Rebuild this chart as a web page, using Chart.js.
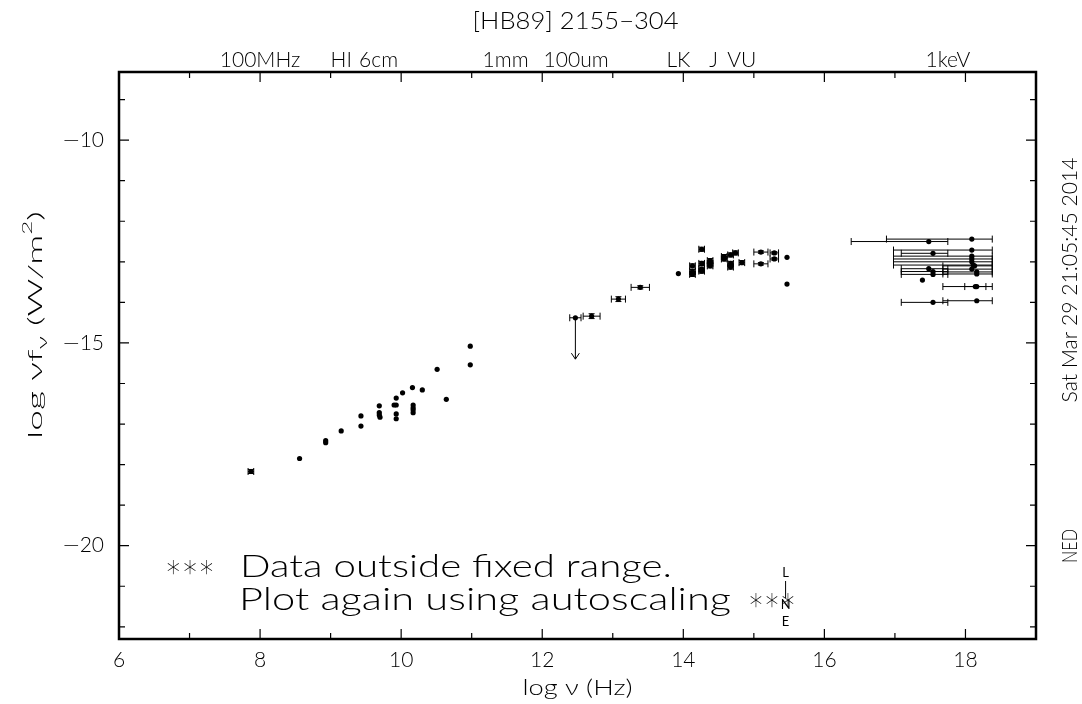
<!DOCTYPE html>
<html>
<head>
<meta charset="utf-8">
<script src="https://cdn.jsdelivr.net/npm/chart.js@4.4.1/dist/chart.umd.min.js"></script>
<style>
  html, body { margin: 0; padding: 0; background: #fff; }
  #wrap { width: 1082px; height: 704px; position: relative; }
</style>
</head>
<body>
<div id="wrap"><canvas id="sed"></canvas></div>
<script>
// log nu (Hz) / log nu*f_nu (W/m^2)
const radioNu   = [7.87, 8.56, 8.93, 8.93, 9.15, 9.43, 9.43, 9.69, 9.69, 9.69, 9.70, 9.93, 9.93, 9.90, 9.93, 9.93, 10.02, 10.16, 10.17, 10.17, 10.17, 10.17, 10.30, 10.51, 10.64, 10.98, 10.98];
const radioFlux = [-18.17, -17.85, -17.41, -17.46, -17.17, -16.80, -17.05, -16.55, -16.72, -16.78, -16.83, -16.36, -16.53, -16.53, -16.75, -16.87, -16.23, -16.10, -16.53, -16.60, -16.65, -16.72, -16.16, -15.65, -16.39, -15.08, -15.54];
const radioXerr = [0.04, 0, 0, 0, 0, 0, 0, 0, 0, 0, 0, 0, 0, 0, 0, 0, 0, 0, 0, 0, 0, 0, 0, 0, 0, 0, 0];
const radioYerr = [0.05, 0, 0, 0, 0, 0, 0, 0, 0, 0, 0, 0, 0, 0, 0, 0, 0, 0, 0, 0, 0, 0, 0, 0, 0, 0, 0];

const optNu   = [12.70, 13.08, 13.39, 13.93, 14.13, 14.13, 14.13, 14.26, 14.26, 14.26, 14.26, 14.38, 14.38, 14.38, 14.58, 14.58, 14.67, 14.67, 14.67, 14.74, 14.83, 15.10, 15.10, 15.29, 15.29, 15.47, 15.47];
const optFlux = [-14.34, -13.92, -13.63, -13.29, -13.10, -13.24, -13.31, -12.69, -13.04, -13.18, -13.23, -12.97, -13.10, -13.04, -12.87, -12.93, -12.83, -13.04, -13.13, -12.78, -13.02, -12.76, -13.05, -12.78, -12.93, -12.89, -13.55];
const optXerr = [0.12, 0.10, 0.13, 0, 0.04, 0.04, 0.04, 0.04, 0.04, 0.04, 0.04, 0.04, 0.04, 0.04, 0.04, 0.04, 0.04, 0.04, 0.04, 0.04, 0.04, 0.10, 0.10, 0.06, 0.06, 0, 0];
const optYerr = [0.06, 0.06, 0.04, 0, 0.05, 0.05, 0.05, 0.05, 0.05, 0.05, 0.05, 0.05, 0.05, 0.05, 0.05, 0.05, 0.05, 0.05, 0.05, 0.05, 0.05, 0.03, 0.03, 0.03, 0.03, 0, 0];

const xrayNu   = [17.48, 18.09, 17.54, 18.09, 18.09, 18.09, 18.09, 18.11, 18.13, 18.09, 18.16, 18.16, 17.48, 17.54, 17.54, 17.39, 18.16, 18.14, 17.54, 18.16];
const xrayFlux = [-12.50, -12.44, -12.79, -12.71, -12.86, -12.93, -13.00, -13.08, -13.10, -13.18, -13.25, -13.30, -13.17, -13.24, -13.31, -13.45, -13.61, -13.61, -14.00, -13.96];
const xrayLo   = [16.38, 16.88, 17.09, 16.98, 16.98, 16.98, 16.98, 16.98, 17.68, 17.68, 17.68, 17.68, 17.09, 17.09, 17.09, 17.39, 17.68, 17.99, 17.09, 17.68];
const xrayHi   = [17.75, 18.38, 17.75, 18.38, 18.38, 18.38, 18.38, 18.38, 18.38, 18.38, 18.38, 18.38, 17.75, 17.75, 17.75, 17.39, 18.38, 18.29, 17.75, 18.38];

const limitNu   = [12.47];
const limitFlux = [-14.38];
const limitXerr = [0.08];
const ARROW_DEX = 1.02;

const bandNames = ['100MHz', 'HI', '6cm', '1mm', '100um', 'LK', 'J', 'VU', '1keV'];
const bandNu    = [8.0, 9.15, 9.68, 11.48, 12.48, 13.93, 14.43, 14.83, 17.75];

const xTickLabels = [6, 8, 10, 12, 14, 16, 18];
const yTickLabels = [-10, -15, -20];

const FONT = 'Lato, "DejaVu Sans", sans-serif';

function pts(nu, flux) {
    return nu.map((v, i) => ({ x: v, y: flux[i] }));
}

// draw text squeezed/stretched horizontally to a given width
function fitText(ctx, text, x, y, width, size, align) {
    ctx.font = `300 ${size}px ${FONT}`;
    const w = ctx.measureText(text).width;
    const sx = width / w;
    ctx.save();
    ctx.translate(x, y);
    ctx.scale(sx, 1);
    ctx.textAlign = 'left';
    const start = align === 'center' ? -w / 2 : 0;
    ctx.fillText(text, start, 0);
    ctx.restore();
}

function richText(ctx, parts, x, y, size, width) {
    // parts: [text, scale, dy]
    let total = 0;
    parts.forEach(p => {
        ctx.font = `300 ${Math.round(size * p[1])}px ${FONT}`;
        total += ctx.measureText(p[0]).width;
    });
    ctx.save();
    ctx.translate(x, y);
    ctx.scale(width / total, 1);
    let cx = -total / 2;
    ctx.textAlign = 'left';
    parts.forEach(p => {
        ctx.font = `300 ${Math.round(size * p[1])}px ${FONT}`;
        ctx.fillText(p[0], cx, p[2]);
        cx += ctx.measureText(p[0]).width;
    });
    ctx.restore();
}

const background = {
    id: 'background',
    beforeDraw(chart) {
        const ctx = chart.ctx;
        ctx.save();
        ctx.fillStyle = '#fff';
        ctx.fillRect(0, 0, chart.width, chart.height);
        ctx.restore();
    }
};

const frameAndTicks = {
    id: 'frameAndTicks',
    afterDraw(chart) {
        const { ctx, chartArea: a, scales: { x, y } } = chart;
        ctx.save();
        ctx.strokeStyle = '#000';
        ctx.lineWidth = 1.2;
        // inward ticks on all four sides
        x.ticks.forEach(t => {
            const px = x.getPixelForValue(t.value);
            const len = t.value % 2 === 0 ? 10 : 6;
            ctx.beginPath();
            ctx.moveTo(px, a.bottom); ctx.lineTo(px, a.bottom - len);
            ctx.moveTo(px, a.top); ctx.lineTo(px, a.top + len);
            ctx.stroke();
        });
        y.ticks.forEach(t => {
            const py = y.getPixelForValue(t.value);
            const len = t.value % 5 === 0 ? 10 : 6;
            ctx.beginPath();
            ctx.moveTo(a.left, py); ctx.lineTo(a.left + len, py);
            ctx.moveTo(a.right, py); ctx.lineTo(a.right - len, py);
            ctx.stroke();
        });
        ctx.lineWidth = 2.5;
        ctx.strokeRect(a.left, a.top, a.right - a.left, a.bottom - a.top);

        ctx.fillStyle = '#000';
        ctx.textBaseline = 'middle';
        // title and band labels along the top
        fitText(ctx, '[HB89] 2155\u2212304', (a.left + a.right) / 2 - 2, 22, 206, 23, 'center');
        ctx.textAlign = 'center';
        ctx.font = `300 21px ${FONT}`;
        bandNames.forEach((name, i) => {
            ctx.fillText(name, x.getPixelForValue(bandNu[i]), 60);
        });

        // axis titles
        richText(ctx, [['log \u03bd (Hz)', 1, 0]], (a.left + a.right) / 2, 688, 21, 110);
        ctx.save();
        ctx.translate(36, 325);
        ctx.rotate(-Math.PI / 2);
        richText(ctx, [['log \u03bdf', 1, 0], ['\u03bd', 0.72, 6], [' (W/m', 1, 0], ['2', 0.65, -8], [')', 1, 0]], 0, 0, 20, 228);
        ctx.restore();

        // right-hand stamps
        ctx.save();
        ctx.translate(1070, 280);
        ctx.rotate(-Math.PI / 2);
        fitText(ctx, 'Sat Mar 29 21:05:45 2014', 0, 0, 245, 21, 'center');
        ctx.restore();
        ctx.save();
        ctx.translate(1070, 546);
        ctx.rotate(-Math.PI / 2);
        fitText(ctx, 'NED', 0, 0, 34, 21, 'center');
        ctx.restore();

        // range warning
        const star = '\u2217\u2217\u2217';
        fitText(ctx, star, 165, 567, 50, 31, 'left');
        fitText(ctx, 'Data outside fixed range.', 240, 567, 432, 31, 'left');
        fitText(ctx, 'Plot again using autoscaling', 239, 600, 492, 31, 'left');
        fitText(ctx, star, 748, 600, 48, 31, 'left');

        // L / N / E marker
        const lx = x.getPixelForValue(15.45);
        ctx.textAlign = 'center';
        ctx.font = `13px ${FONT}`;
        ctx.fillText('L', lx, 573);
        ctx.fillText('N', lx, 605);
        ctx.fillText('E', lx, 622);
        ctx.lineWidth = 1;
        ctx.beginPath();
        ctx.moveTo(lx, 581); ctx.lineTo(lx, 598);
        ctx.stroke();
        ctx.restore();
    }
};

const errorBars = {
    id: 'errorBars',
    afterDatasetsDraw(chart) {
        const { ctx, scales: { x, y } } = chart;
        ctx.save();
        ctx.strokeStyle = '#000';
        ctx.lineWidth = 1;
        chart.data.datasets.forEach(ds => {
            if (!ds.xMinus) return;
            ds.data.forEach((p, i) => {
                const px = x.getPixelForValue(p.x);
                const py = y.getPixelForValue(p.y);
                const x0 = x.getPixelForValue(ds.xMinus[i]);
                const x1 = x.getPixelForValue(ds.xPlus[i]);
                const y0 = y.getPixelForValue(ds.yMinus[i]);
                const y1 = y.getPixelForValue(ds.yPlus[i]);
                ctx.beginPath();
                if (Math.abs(x1 - x0) > 0.5) {
                    ctx.moveTo(x0, py); ctx.lineTo(x1, py);
                    ctx.moveTo(x0, py - 3.5); ctx.lineTo(x0, py + 3.5);
                    ctx.moveTo(x1, py - 3.5); ctx.lineTo(x1, py + 3.5);
                }
                if (Math.abs(y1 - y0) > 0.5) {
                    ctx.moveTo(px, y0); ctx.lineTo(px, y1);
                    ctx.moveTo(px - 3, y0); ctx.lineTo(px + 3, y0);
                    ctx.moveTo(px - 3, y1); ctx.lineTo(px + 3, y1);
                }
                ctx.stroke();
                if (ds.arrow) {
                    const yEnd = y.getPixelForValue(p.y - ARROW_DEX);
                    ctx.beginPath();
                    ctx.moveTo(px, py); ctx.lineTo(px, yEnd);
                    ctx.moveTo(px - 4, yEnd - 6); ctx.lineTo(px, yEnd); ctx.lineTo(px + 4, yEnd - 6);
                    ctx.stroke();
                }
            });
        });
        ctx.restore();
    }
};

function symErr(vals, errs, sign) {
    return vals.map((v, i) => v + sign * errs[i]);
}

const dotStyle = { pointRadius: 2.6, pointHoverRadius: 2.6, backgroundColor: '#000', borderColor: '#000', borderWidth: 0, showLine: false };

const datasets = [
    Object.assign({
        label: 'radio', data: pts(radioNu, radioFlux),
        xMinus: symErr(radioNu, radioXerr, -1), xPlus: symErr(radioNu, radioXerr, 1),
        yMinus: symErr(radioFlux, radioYerr, -1), yPlus: symErr(radioFlux, radioYerr, 1)
    }, dotStyle),
    Object.assign({
        label: 'ir-optical', data: pts(optNu, optFlux),
        xMinus: symErr(optNu, optXerr, -1), xPlus: symErr(optNu, optXerr, 1),
        yMinus: symErr(optFlux, optYerr, -1), yPlus: symErr(optFlux, optYerr, 1)
    }, dotStyle),
    Object.assign({
        label: 'x-ray', data: pts(xrayNu, xrayFlux),
        xMinus: xrayLo, xPlus: xrayHi,
        yMinus: xrayFlux, yPlus: xrayFlux
    }, dotStyle),
    Object.assign({
        label: 'upper limit', data: pts(limitNu, limitFlux), arrow: true,
        xMinus: symErr(limitNu, limitXerr, -1), xPlus: symErr(limitNu, limitXerr, 1),
        yMinus: limitFlux, yPlus: limitFlux
    }, dotStyle)
];

const tickFont = { size: 21, family: FONT, weight: 300 };

new Chart(document.getElementById('sed'), {
    type: 'scatter',
    data: { datasets: datasets },
    options: {
        responsive: true,
        maintainAspectRatio: false,
        animation: false,
        devicePixelRatio: 1,
        layout: { padding: { top: 72, right: 46, left: 0, bottom: 0 } },
        plugins: { legend: { display: false }, tooltip: { enabled: false } },
        scales: {
            x: {
                type: 'linear', min: 6, max: 19,
                afterFit: s => { s.height = 65; },
                grid: { display: false, drawTicks: false },
                border: { display: false },
                ticks: {
                    stepSize: 1, autoSkip: false, maxRotation: 0, includeBounds: false,
                    padding: 9, color: '#000', font: tickFont,
                    callback: v => xTickLabels.includes(v) ? String(v) : ''
                }
            },
            y: {
                type: 'linear', min: -22.3, max: -8.32,
                afterFit: s => { s.width = 119; },
                grid: { display: false, drawTicks: false },
                border: { display: false },
                ticks: {
                    stepSize: 1, autoSkip: false, includeBounds: false,
                    padding: 15, color: '#000', font: tickFont,
                    callback: v => yTickLabels.includes(v) ? '\u2014' + Math.abs(v) : ''
                }
            }
        }
    },
    plugins: [background, errorBars, frameAndTicks]
});
</script>
</body>
</html>
